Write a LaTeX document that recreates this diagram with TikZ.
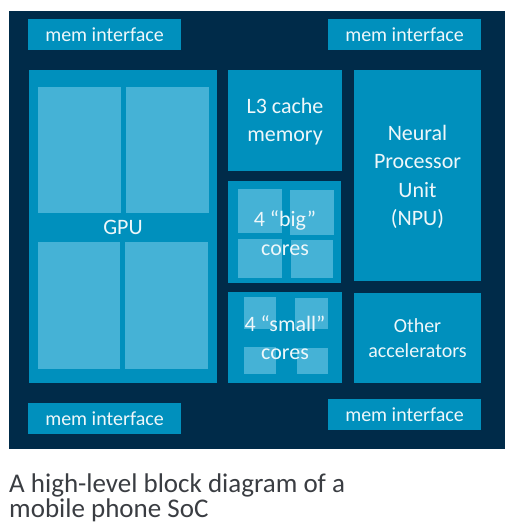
\documentclass[tikz,border=0pt]{standalone}
\usepackage{fontspec}
\setmainfont{Carlito}
\definecolor{socbg}{HTML}{002B49}
\definecolor{socmid}{HTML}{0090BD}
\definecolor{soclight}{HTML}{45B2D6}
\definecolor{soctext}{HTML}{EEF7FA}
\definecolor{capcol}{HTML}{3A3D42}
\tikzset{
  blk/.style={fill=socmid, draw=none, inner sep=0pt, outer sep=0pt},
  sub/.style={fill=soclight},
  lbl/.style={text=soctext, align=center, inner sep=0pt, font=\fontsize{22}{28.5}\selectfont},
  memlbl/.style={text=soctext, inner sep=0pt, font=\fontsize{20}{24}\selectfont},
  captxt/.style={text=capcol, inner sep=0pt, anchor=base west, font=\fontsize{27}{28}\selectfont}
}
\begin{document}
\begin{tikzpicture}[x=1pt,y=-1pt]
\useasboundingbox (0,0) rectangle (508,524);
% background
\fill[socbg] (9,11) rectangle (505,449);
% memory interfaces
\node[blk, minimum width=153pt, minimum height=31pt] (memtl) at (104.5,34.5) {};
\node[blk, minimum width=153pt, minimum height=31pt] (memtr) at (404.5,34.5) {};
\node[blk, minimum width=153pt, minimum height=31pt] (membl) at (104.5,418.5) {};
\node[blk, minimum width=153pt, minimum height=31pt] (membr) at (404.5,414.5) {};
% main blocks
\node[blk, minimum width=188pt, minimum height=313pt] (gpu) at (123,226.5) {};
\node[blk, minimum width=114pt, minimum height=101pt] (l3) at (285,120.5) {};
\node[blk, minimum width=113pt, minimum height=102pt] (big) at (284.5,232) {};
\node[blk, minimum width=114pt, minimum height=91pt] (small) at (285,337.5) {};
\node[blk, minimum width=127pt, minimum height=211pt] (npu) at (417.5,175.5) {};
\node[blk, minimum width=127pt, minimum height=90pt] (other) at (417.5,338) {};
% GPU sub-blocks
\fill[sub] (38,87) rectangle (121,213);
\fill[sub] (126,87) rectangle (209,213);
\fill[sub] (38,242) rectangle (120,369);
\fill[sub] (125,242) rectangle (208,369);
% big cores
\fill[sub] (238,189) rectangle (282,233);
\fill[sub] (290,190) rectangle (334,235);
\fill[sub] (238,239) rectangle (282,278);
\fill[sub] (291,240) rectangle (333,278);
% small cores
\fill[sub] (244,297) rectangle (276,329);
\fill[sub] (295,298) rectangle (328,329);
\fill[sub] (244,347) rectangle (276,374);
\fill[sub] (297,348) rectangle (328,374);
% labels
\node[memlbl] (memtl-t) at (memtl.center) {mem interface};
\node[memlbl] (memtr-t) at (memtr.center) {mem interface};
\node[memlbl] (membl-t) at (membl.center) {mem interface};
\node[memlbl] (membr-t) at (membr.center) {mem interface};
\node[lbl] (gpu-t) at (123,227) {GPU};
\node[lbl] (l3-t) at (285,121.5) {L3 cache\\memory};
\node[lbl] (big-t) at (285,233) {4 “big”\\cores};
\node[lbl] (small-t) at (285,337.5) {4 “small”\\cores};
\node[lbl] (npu-t) at (417.5,177) {Neural\\Processor\\Unit\\(NPU)};
\node[lbl, font=\fontsize{20}{25}\selectfont] (other-t) at (417.5,338.5) {Other\\accelerators};
% caption
\node[captxt] (cap1) at (9,492) {A high-level block diagram of a};
\node[captxt] (cap2) at (9,517) {mobile phone SoC};
\end{tikzpicture}
\end{document}
